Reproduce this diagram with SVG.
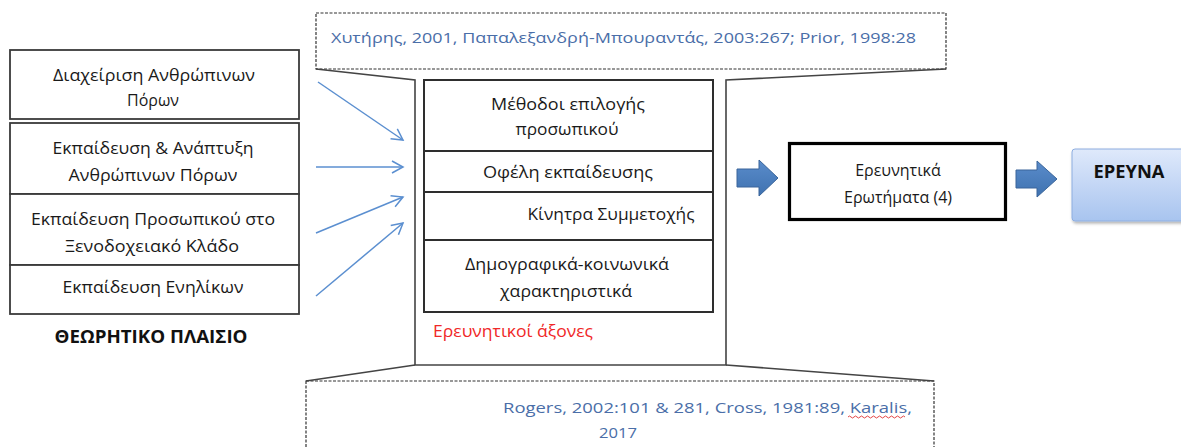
<svg xmlns="http://www.w3.org/2000/svg" width="1181" height="447" viewBox="0 0 1181 447">
<style>
.t{font-family:"Open Sans","Noto Sans","Liberation Sans",sans-serif;font-size:16px;fill:#1a1a1a}
.c{text-anchor:middle}
.b{font-weight:bold;font-size:18px;fill:#111}
.cite{font-family:"Open Sans","Noto Sans","Liberation Sans",sans-serif;font-size:15px;fill:#4a6ea8}
.red{fill:#f02828}
.lb{fill:#fff;stroke:#3a3a3a;stroke-width:1.8}
.ib{fill:#fff;stroke:#2e2e2e;stroke-width:2}
.dash{fill:#fff;stroke:#333;stroke-width:1.2;stroke-dasharray:3 1.5}
.solid{fill:none;stroke:#444;stroke-width:1.6}
.thin{stroke:#5b8fd0;stroke-width:1.5;fill:none;marker-end:url(#open)}
.blk{stroke:#3a659a;stroke-width:1}
</style>
<defs>
<marker id="open" markerUnits="userSpaceOnUse" markerWidth="16" markerHeight="16" refX="12" refY="7" orient="auto">
<path d="M1,1 L12,7 L1,13" fill="none" stroke="#5b8fd0" stroke-width="1.5"/>
</marker>
<linearGradient id="gb" x1="0" y1="0" x2="0" y2="1">
<stop offset="0" stop-color="#dfe9fb"/>
<stop offset="1" stop-color="#a8c4ef"/>
</linearGradient>
<linearGradient id="ga" x1="0" y1="0" x2="0" y2="1">
<stop offset="0" stop-color="#5a8ccb"/>
<stop offset="1" stop-color="#3f72b0"/>
</linearGradient>
<filter id="sh" x="-10%" y="-10%" width="130%" height="140%">
<feDropShadow dx="1" dy="2" stdDeviation="1.5" flood-color="#000" flood-opacity="0.3"/>
</filter>
</defs>
<rect width="1181" height="447" fill="#fff"/>

<g id="callout-top">
<rect class="dash" x="316" y="13" width="630" height="56"/>
<text class="cite" x="331" y="43" textLength="585" lengthAdjust="spacingAndGlyphs">Χυτήρης, 2001, Παπαλεξανδρή-Μπουραντάς, 2003:267; Prior, 1998:28</text>
</g>

<g id="callout-bottom">
<rect class="dash" x="306" y="381" width="628" height="80"/>
<text class="cite" x="503" y="413" textLength="409" lengthAdjust="spacingAndGlyphs">Rogers, 2002:101 &amp; 281, Cross, 1981:89, Karalis,</text>
<text class="cite" x="599" y="438" textLength="38" lengthAdjust="spacingAndGlyphs">2017</text>
<path d="M848,417 q1.5,-2 3,0 t3,0 t3,0 t3,0 t3,0 t3,0 t3,0 t3,0 t3,0 t3,0 t3,0 t3,0 t3,0 t3,0 t3,0 t3,0 t3,0 t3,0 t3,0" fill="none" stroke="#e03030" stroke-width="0.9"/>
</g>

<g id="axes-frame">
<path class="solid" d="M316,69 L415,80 L415,365 L726,365 L726,80 L946,69"/>
<path class="solid" d="M415,365 L306,381 M726,365 L934,381"/>
<text class="t red" x="433" y="337" textLength="160" lengthAdjust="spacingAndGlyphs">Ερευνητικοί άξονες</text>
</g>

<g id="left-1">
<rect class="lb" x="10" y="50" width="289" height="69"/>
<text class="t c" x="154" y="81" textLength="202" lengthAdjust="spacingAndGlyphs">Διαχείριση Ανθρώπινων</text>
<text class="t c" x="153" y="106">Πόρων</text>
</g>
<g id="left-2">
<rect class="lb" x="10" y="123" width="289" height="71"/>
<text class="t c" x="153" y="154" textLength="201" lengthAdjust="spacingAndGlyphs">Εκπαίδευση &amp; Ανάπτυξη</text>
<text class="t c" x="153" y="181" textLength="169" lengthAdjust="spacingAndGlyphs">Ανθρώπινων Πόρων</text>
</g>
<g id="left-3">
<rect class="lb" x="10" y="194" width="289" height="71"/>
<text class="t c" x="153" y="225" textLength="244" lengthAdjust="spacingAndGlyphs">Εκπαίδευση Προσωπικού στο</text>
<text class="t c" x="152" y="252" textLength="174" lengthAdjust="spacingAndGlyphs">Ξενοδοχειακό Κλάδο</text>
</g>
<g id="left-4">
<rect class="lb" x="10" y="265" width="289" height="49"/>
<text class="t c" x="153" y="293" textLength="181" lengthAdjust="spacingAndGlyphs">Εκπαίδευση Ενηλίκων</text>
</g>
<g id="theory-label">
<text class="t c b" x="151" y="343" textLength="193" lengthAdjust="spacingAndGlyphs">ΘΕΩΡΗΤΙΚΟ ΠΛΑΙΣΙΟ</text>
</g>

<g id="axis-1">
<rect class="ib" x="424" y="80" width="289" height="71"/>
<text class="t c" x="568" y="110" textLength="154" lengthAdjust="spacingAndGlyphs">Μέθοδοι επιλογής</text>
<text class="t c" x="567" y="135" textLength="103" lengthAdjust="spacingAndGlyphs">προσωπικού</text>
</g>
<g id="axis-2">
<rect class="ib" x="424" y="151" width="289" height="41"/>
<text class="t c" x="568" y="178" textLength="170" lengthAdjust="spacingAndGlyphs">Οφέλη εκπαίδευσης</text>
</g>
<g id="axis-3">
<rect class="ib" x="424" y="192" width="289" height="48"/>
<text class="t c" x="611" y="220" textLength="167" lengthAdjust="spacingAndGlyphs">Κίνητρα Συμμετοχής</text>
</g>
<g id="axis-4">
<rect class="ib" x="424" y="240" width="289" height="72"/>
<text class="t c" x="567" y="270" textLength="204" lengthAdjust="spacingAndGlyphs">Δημογραφικά-κοινωνικά</text>
<text class="t c" x="566" y="297" textLength="132" lengthAdjust="spacingAndGlyphs">χαρακτηριστικά</text>
</g>

<g id="questions">
<rect x="789.5" y="143.5" width="216" height="76" fill="#fff" stroke="#000" stroke-width="3.2"/>
<text class="t c" x="898" y="176">Ερευνητικά</text>
<text class="t c" x="898" y="203">Ερωτήματα (4)</text>
</g>

<g id="research">
<rect x="1072" y="149" width="118" height="72" rx="3" fill="url(#gb)" stroke="#8eaee0" stroke-width="1" filter="url(#sh)"/>
<text class="t c b" x="1129" y="178" textLength="71" lengthAdjust="spacingAndGlyphs">ΕΡΕΥΝΑ</text>
</g>

<g id="connectors">
<line class="thin" x1="318" y1="82" x2="403" y2="140"/>
<line class="thin" x1="316" y1="167" x2="403" y2="167"/>
<line class="thin" x1="316" y1="233" x2="403" y2="197"/>
<line class="thin" x1="316" y1="296" x2="403" y2="223"/>
<path class="blk" fill="url(#ga)" d="M737,169 L759,169 L759,160 L778,178 L759,196 L759,187 L737,187 Z"/>
<path class="blk" fill="url(#ga)" d="M1016,170 L1037,170 L1037,161 L1057,179 L1037,197 L1037,188 L1016,188 Z"/>
</g>
</svg>
